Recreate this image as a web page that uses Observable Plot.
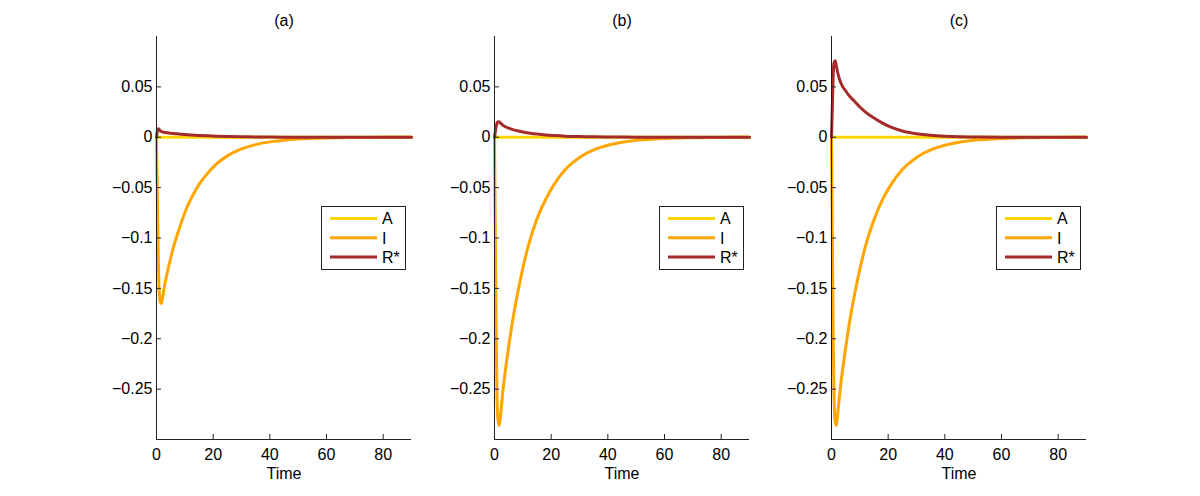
<!DOCTYPE html>
<html><head><meta charset="utf-8">
<script src="https://cdn.jsdelivr.net/npm/d3@7"></script>
<script src="https://cdn.jsdelivr.net/npm/@observablehq/plot@0.6"></script>
<style>
body{margin:0;background:#fff;}
#wrap{position:relative;width:1200px;height:496px;overflow:hidden;font-family:"Liberation Sans",Arial,sans-serif;background:#fff;}
.panel{position:absolute;top:0;}
.legend{position:absolute;}
</style></head><body><div id="wrap"></div>
<script>
const time = [0, 0.3, 0.6, 0.9, 1.3, 1.7, 2.2, 3, 4, 5, 6, 8, 10, 12, 15, 18, 21, 25, 30, 35, 40, 45, 50, 60, 70, 80, 90];
const panelTitles = ["(a)", "(b)", "(c)"];
const seriesNames = ["A", "I", "R*"];
const seriesColors = ["#FFD700", "#FFA500", "#A52A2A"];

const A_a = [0,0,0,0,0,0,0,0,0,0,0,0,0,0,0,0,0,0,0,0,0,0,0,0,0,0,0];
const I_a = [0,-0.06,-0.115,-0.15,-0.163,-0.165,-0.158,-0.145,-0.132,-0.120,-0.109,-0.091,-0.075,-0.062,-0.047,-0.036,-0.027,-0.0185,-0.0116,-0.0073,-0.0046,-0.0029,-0.0018,-0.0007,-0.0003,-0.0001,0];
const R_a = [0,0.006,0.0085,0.008,0.0065,0.0057,0.0052,0.0048,0.0044,0.0040,0.0037,0.0032,0.0027,0.0023,0.0018,0.0014,0.0011,0.0008,0.0005,0.0003,0.0002,0.0001,0.0001,0,0,0,0];

const A_b = [0,0,0,0,0,0,0,0,0,0,0,0,0,0,0,0,0,0,0,0,0,0,0,0,0,0,0];
const I_b = [0,-0.10,-0.20,-0.26,-0.282,-0.286,-0.274,-0.251,-0.228,-0.208,-0.189,-0.157,-0.130,-0.107,-0.081,-0.062,-0.047,-0.032,-0.020,-0.0126,-0.008,-0.005,-0.0031,-0.0012,-0.0005,-0.0002,0];
const R_b = [0,0.006,0.011,0.014,0.0155,0.0152,0.0138,0.0118,0.0102,0.0090,0.0080,0.0065,0.0053,0.0043,0.0032,0.0023,0.0017,0.0011,0.0007,0.0004,0.00025,0.00015,0.0001,0,0,0,0];

const A_c = [0,0,0,0,0,0,0,0,0,0,0,0,0,0,0,0,0,0,0,0,0,0,0,0,0,0,0];
const I_c = [0,-0.10,-0.20,-0.26,-0.282,-0.286,-0.274,-0.252,-0.229,-0.209,-0.190,-0.158,-0.131,-0.108,-0.082,-0.062,-0.047,-0.032,-0.020,-0.0126,-0.008,-0.005,-0.0031,-0.0012,-0.0005,-0.0002,0];
const R_c = [0,0.03,0.062,0.074,0.076,0.071,0.064,0.056,0.050,0.046,0.042,0.036,0.030,0.025,0.019,0.014,0.0100,0.0062,0.0035,0.0019,0.0010,0.0005,0.0003,0.0001,0,0,0];

const xTicks = [0, 20, 40, 60, 80];
const yTicks = [-0.25, -0.2, -0.15, -0.1, -0.05, 0, 0.05];
const xDomain = [0, 90];
const yDomain = [-0.3, 0.1];
const xLabel = "Time";

const panelSeries = [[A_a, I_a, R_a], [A_b, I_b, R_b], [A_c, I_c, R_c]];
const panelLefts = [96, 434, 771];

const fmt = d => String(+d.toFixed(2)).replace("-", "\u2212");
const wrap = document.getElementById("wrap");
const FONT = "Liberation Sans, Arial, sans-serif";

panelSeries.forEach((arrs, p) => {
  const rows = [];
  arrs.forEach((vals, s) => vals.forEach((v, i) => rows.push({t: time[i], v, series: seriesNames[s]})));
  const chart = Plot.plot({
    width: 335, height: 496,
    marginLeft: 60, marginRight: 20, marginTop: 36, marginBottom: 57,
    style: {fontFamily: FONT, fontSize: "16px", background: "transparent", overflow: "visible"},
    x: {domain: xDomain},
    y: {domain: yDomain},
    color: {domain: seriesNames, range: seriesColors},
    marks: [
      Plot.line(rows, {x: "t", y: "v", stroke: "series", strokeWidth: 3, curve: "monotone-x"}),
      Plot.ruleX([xDomain[0]], {stroke: "#222", strokeWidth: 1}),
      Plot.ruleY([yDomain[0]], {stroke: "#222", strokeWidth: 1}),
      Plot.axisX(xTicks, {tickSize: -5, tickPadding: 14, label: null, tickFormat: d => String(d), stroke: "#222"}),
      Plot.axisY(yTicks, {tickSize: -5, tickPadding: 9, label: null, tickFormat: fmt, stroke: "#222"}),
      Plot.text([panelTitles[p]], {frameAnchor: "top", lineAnchor: "middle", dy: -16, text: d => d, fontSize: 16}),
      Plot.text([xLabel], {frameAnchor: "bottom", lineAnchor: "middle", dy: 34, text: d => d})
    ]
  });
  chart.classList.add("panel");
  chart.style.left = panelLefts[p] + "px";
  wrap.appendChild(chart);

  // legend box
  const lg = d3.create("svg").attr("class", "legend")
    .attr("width", 86).attr("height", 65)
    .style("left", (panelLefts[p] + 60 + 165) + "px").style("top", "206px");
  lg.append("rect").attr("x", 0.5).attr("y", 0.5).attr("width", 84).attr("height", 63)
    .attr("fill", "#fff").attr("stroke", "#222");
  seriesNames.forEach((name, i) => {
    const yy = 12.5 + i * 19.3;
    lg.append("line").attr("x1", 9).attr("x2", 56).attr("y1", yy).attr("y2", yy)
      .attr("stroke", seriesColors[i]).attr("stroke-width", 3);
    lg.append("text").attr("x", 61).attr("y", yy).attr("dy", "0.36em")
      .attr("font-size", 16).attr("font-family", FONT).text(name);
  });
  wrap.appendChild(lg.node());
});
</script></body></html>
